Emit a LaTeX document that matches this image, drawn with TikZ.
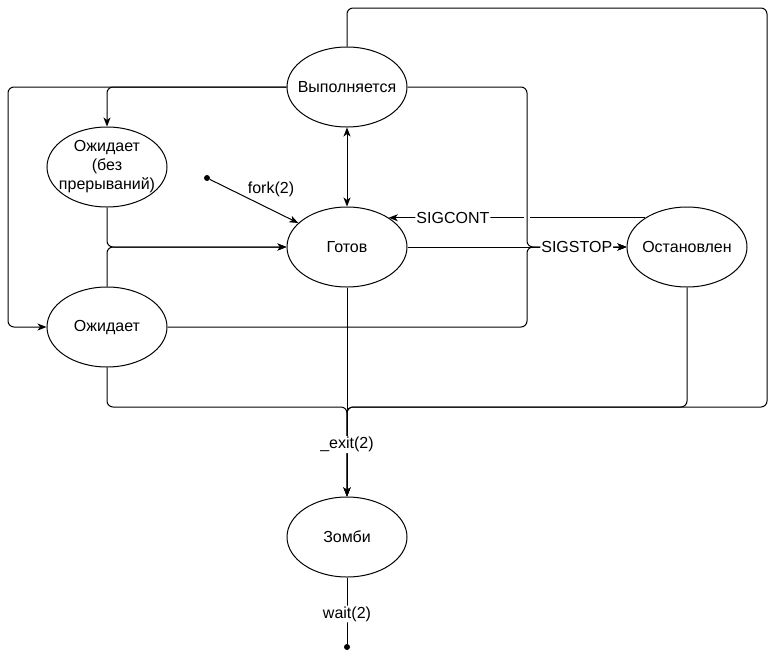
\documentclass[tikz,border=0pt]{standalone}
\usepackage{fontspec}
\setmainfont{Liberation Sans}
\usetikzlibrary{shapes.geometric,arrows.meta}
\begin{document}
\begin{tikzpicture}[x=1pt,y=-1pt,
  st/.style={ellipse,draw,line width=1pt,minimum width=120pt,minimum height=80pt,inner xsep=-12pt,inner ysep=-4pt,font=\fontsize{16}{19}\selectfont,align=center},
  conn/.style={line width=1pt,rounded corners=6pt},
  tip/.tip={Stealth[length=9pt,width=7pt,inset=2.5pt]},
  arr/.style={conn,-tip},
  lbl/.style={fill=white,inner sep=1pt,font=\fontsize{16}{19}\selectfont},
  dotpt/.style={circle,fill,inner sep=0pt,minimum size=6pt}]
\useasboundingbox (0,0) rectangle (777,657);
\node[st] (run) at (347,87) {Выполняется};
\node[st] (ready) at (347,247) {Готов};
\node[st] (stop) at (687,247) {Остановлен};
\node[st] (waitu) at (107,167) {Ожидает\\(без\\прерываний)};
\node[st] (wait) at (107,327) {Ожидает};
\node[st] (zomb) at (347,537) {Зомби};
\node[dotpt] (forkdot) at (207,178) {};
\node[dotpt] (end) at (347,647) {};
% from running
\draw[arr] (run.west) -- (8,87) -- (8,327) -- (wait.west);
\draw[arr] (run.west) -- (107,87) -- (waitu.north);
\draw[conn,tip-tip] (run.south) -- (ready.north);
% waits to ready
\draw[arr] (waitu.south) -- (107,247) -- (ready.west);
\draw[arr] (wait.north) -- (107,247) -- (ready.west);
% fork
\draw[arr] (forkdot) -- (ready);
\node[lbl] (forklbl) at (271,189) {fork(2)};
% SIGCONT
\draw[arr] (stop.145) -- (ready.35) node[lbl,pos=0.75] (contlbl) {SIGCONT};
\draw[white,line width=6pt] (527,211) -- (527,225);
% to stopped
\draw[arr] (run.east) -- (527,87) -- (527,247) -- (stop.west);
\draw[arr] (wait.east) -- (527,327) -- (527,247) -- (stop.west);
\draw[arr] (ready.east) -- (stop.west) node[lbl,pos=0.773] (stoplbl) {SIGSTOP};
% to zombie
\draw[arr] (wait.south) -- (107,407) -- (347,407) -- (zomb.north);
\draw[arr] (stop.south) -- (687,407) -- (347,407) -- (zomb.north);
\draw[arr] (run.north) -- (347,8) -- (767,8) -- (767,407) -- (347,407) -- (zomb.north);
\draw[arr] (ready.south) -- (zomb.north) node[lbl,pos=0.752] (exitlbl) {\_exit(2)};
% wait
\draw[conn] (zomb.south) -- (end) node[lbl,pos=0.55] (waitlbl) {wait(2)};
\end{tikzpicture}
\end{document}
